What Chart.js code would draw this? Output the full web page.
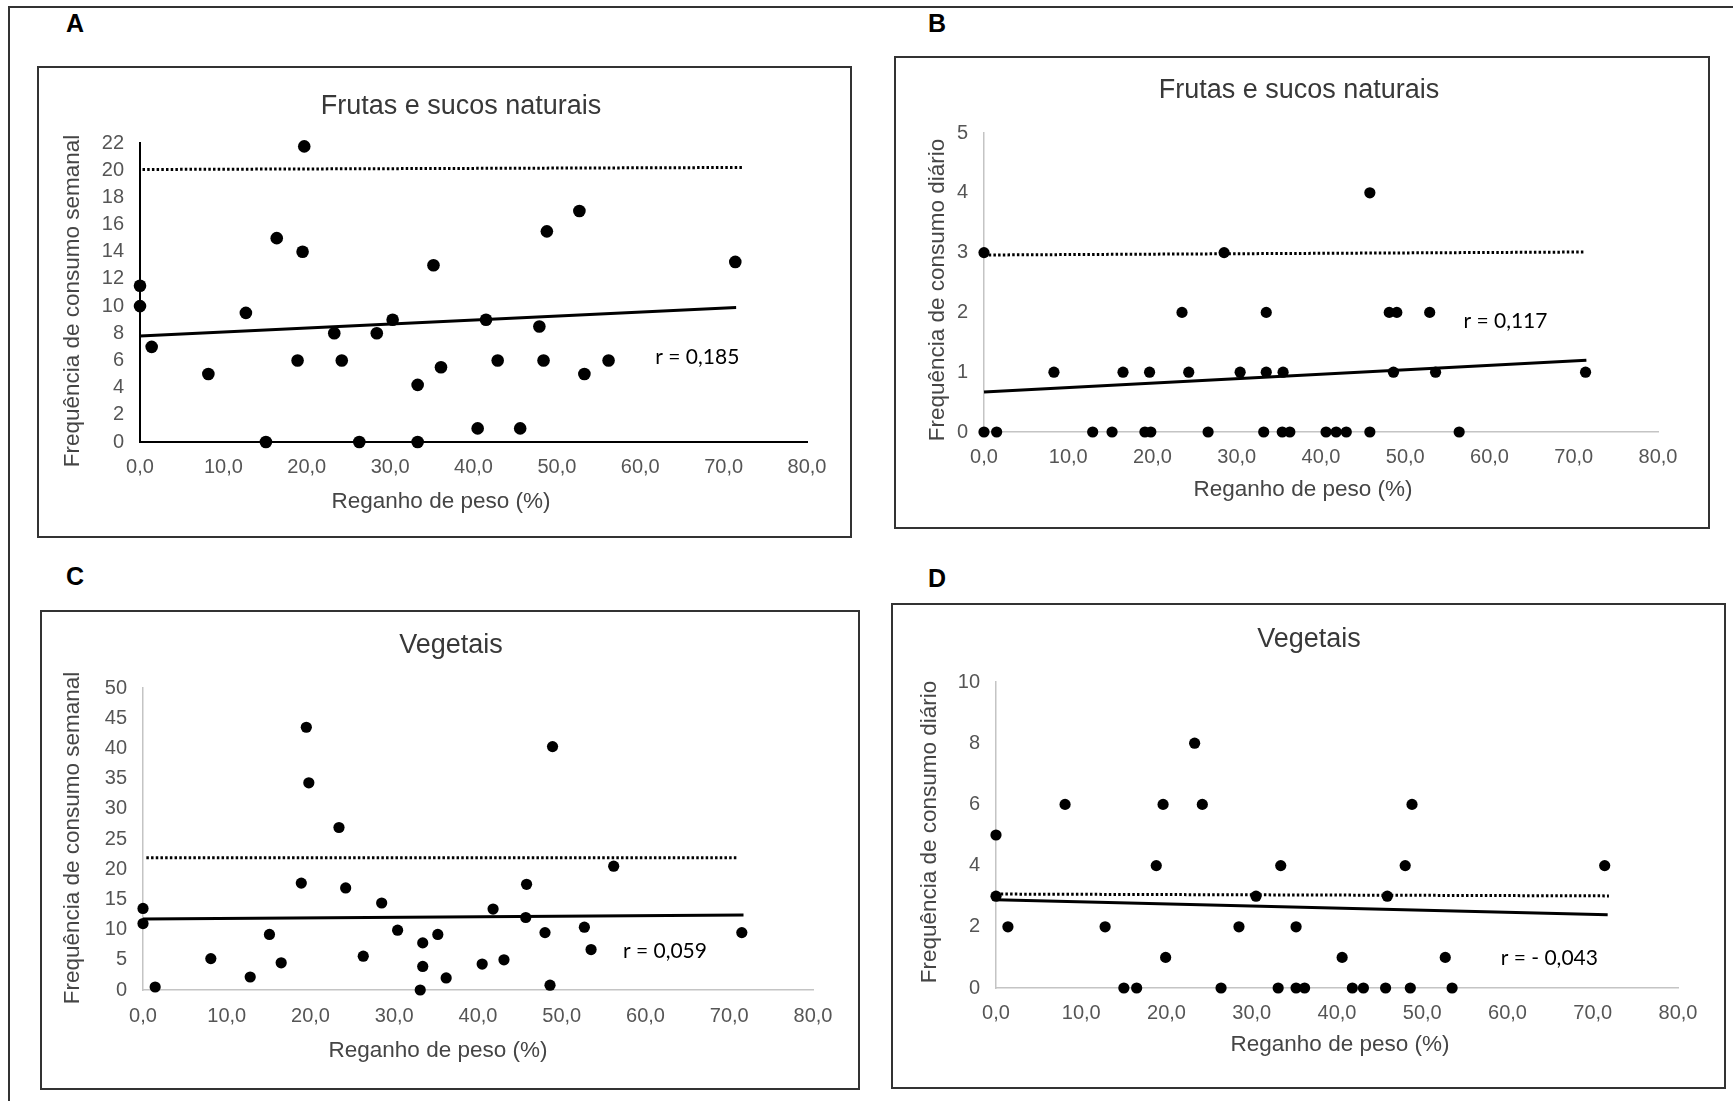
<!DOCTYPE html>
<html>
<head>
<meta charset="utf-8">
<script src="https://cdn.jsdelivr.net/npm/chart.js@4.4.0/dist/chart.umd.min.js"></script>
<style>
  body { margin: 0; width: 1733px; height: 1101px; overflow: hidden; background: #fff; position: relative; }
  .frame { position: absolute; left: 8px; top: 6px; width: 1800px; height: 1200px; border-left: 2px solid #333; border-top: 2px solid #333; }
  .box { position: absolute; border: 2px solid #333; box-sizing: border-box; background: #fff; }
  .box canvas { position: absolute; left: 0; top: 0; }
  .letter { position: absolute; font: bold 25px "Liberation Sans", Arial, sans-serif; line-height: 25px; color: #000; }
</style>
</head>
<body>
<div class="frame"></div>
<div class="letter" style="left:66px;top:11px">A</div>
<div class="letter" style="left:928px;top:11px">B</div>
<div class="letter" style="left:66px;top:564px">C</div>
<div class="letter" style="left:928px;top:566px">D</div>

<script>
// eixo x comum: reganho de peso (%)
const xTickValues = [0, 10, 20, 30, 40, 50, 60, 70, 80];

// A - frutas e sucos naturais, consumo semanal
const frutasSemanalX = [0, 0, 1.4, 8.2, 12.7, 15.1, 16.4, 19.7, 19.5, 18.9, 23.3, 24.2, 26.3, 28.4, 30.3,
  33.3, 33.3, 35.2, 36.1, 40.5, 41.5, 42.9, 45.6, 47.9, 48.4, 48.8, 52.7, 53.3, 56.2, 71.4];
const frutasSemanalY = [11.5, 10, 7, 5, 9.5, 0, 15, 21.75, 14, 6, 8, 6, 0, 8, 9,
  0, 4.2, 13, 5.5, 1, 9, 6, 1, 8.5, 6, 15.5, 17, 5, 6, 13.25];
const frutasSemanalTrendX = [0, 71.5];
const frutasSemanalTrendY = [7.8, 9.9];
const frutasSemanalRefX = [0.3, 72.3];
const frutasSemanalRefY = [20.05, 20.2];
const frutasSemanalTicks = [0, 2, 4, 6, 8, 10, 12, 14, 16, 18, 20, 22];

// B - frutas e sucos naturais, consumo diario
const frutasDiarioX = [0, 28.5, 45.8, 23.5, 33.5, 48.1, 49.0, 52.9,
  8.3, 16.5, 19.65, 24.3, 30.4, 33.5, 35.5, 48.6, 53.6, 71.4,
  0, 1.5, 12.9, 15.2, 19.1, 19.8, 26.6, 33.2, 35.4, 36.3, 40.6, 41.8, 43.0, 45.8, 56.4];
const frutasDiarioY = [3, 3, 4, 2, 2, 2, 2, 2,
  1, 1, 1, 1, 1, 1, 1, 1, 1, 1,
  0, 0, 0, 0, 0, 0, 0, 0, 0, 0, 0, 0, 0, 0, 0];
const frutasDiarioTrendX = [0, 71.5];
const frutasDiarioTrendY = [0.67, 1.2];
const frutasDiarioRefX = [0, 71.4];
const frutasDiarioRefY = [2.96, 3.01];
const frutasDiarioTicks = [0, 1, 2, 3, 4, 5];

// C - vegetais, consumo semanal
const vegetaisSemanalX = [0, 0, 1.45, 8.1, 12.8, 15.1, 16.5, 18.9, 19.5, 19.8, 23.4, 24.2, 26.3, 28.5, 30.4, 33.1,
  33.4, 33.4, 35.2, 36.2, 40.5, 41.8, 43.1, 45.8, 45.7, 48.0, 48.6, 48.9, 52.7, 53.5, 56.2, 71.5];
const vegetaisSemanalY = [13.5, 11, 0.5, 5.2, 2.15, 9.2, 4.5, 17.7, 43.5, 34.3, 26.9, 16.9, 5.6, 14.4, 9.9, 0,
  7.8, 3.9, 9.2, 2.0, 4.3, 13.4, 5.0, 17.5, 12.0, 9.5, 0.8, 40.3, 10.4, 6.7, 20.5, 9.5];
const vegetaisSemanalTrendX = [0, 71.7];
const vegetaisSemanalTrendY = [11.75, 12.4];
const vegetaisSemanalRefX = [0.4, 71.1];
const vegetaisSemanalRefY = [21.9, 21.9];
const vegetaisSemanalTicks = [0, 5, 10, 15, 20, 25, 30, 35, 40, 45, 50];

// D - vegetais, consumo diario
const vegetaisDiarioX = [0, 0, 1.4, 8.1, 12.8, 15.0, 16.5, 18.8, 19.6, 19.9, 23.3, 24.2, 26.4, 28.5, 30.5, 33.1,
  33.4, 35.2, 35.2, 36.2, 40.6, 41.8, 43.1, 45.7, 45.9, 48.0, 48.6, 48.8, 52.7, 53.5, 71.4];
const vegetaisDiarioY = [5, 3, 2, 6, 2, 0, 0, 4, 6, 1, 8, 6, 0, 2, 3, 0,
  4, 2, 0, 0, 1, 0, 0, 0, 3, 4, 0, 6, 1, 0, 4];
const vegetaisDiarioTrendX = [0, 71.75];
const vegetaisDiarioTrendY = [2.88, 2.39];
const vegetaisDiarioRefX = [0, 71.9];
const vegetaisDiarioRefY = [3.07, 3.01];
const vegetaisDiarioTicks = [0, 2, 4, 6, 8, 10];

const FONT = '"Liberation Sans", Arial, sans-serif';

function pts(xs, ys) {
  return xs.map((x, i) => ({x: x, y: ys[i]}));
}

// titulos (grafico e eixos) e valor de r
const panelText = {
  id: 'panelText',
  afterDatasetsDraw(chart, args, o) {
    const ctx = chart.ctx;
    ctx.save();
    ctx.textAlign = 'center';
    ctx.textBaseline = 'middle';
    ctx.fillStyle = '#383838';
    ctx.font = '27px ' + FONT;
    ctx.fillText(o.title, o.titleAt[0], o.titleAt[1]);

    ctx.fillStyle = '#454545';
    ctx.font = '22.5px ' + FONT;
    ctx.fillText('Reganho de peso (%)', o.xTitleAt[0], o.xTitleAt[1]);
    ctx.save();
    ctx.translate(o.yTitleAt[0], o.yTitleAt[1]);
    ctx.rotate(-Math.PI / 2);
    ctx.fillText(o.yTitle, 0, 0);
    ctx.restore();

    ctx.fillStyle = '#000';
    ctx.font = '21px Lato, sans-serif';
    ctx.textAlign = 'left';
    ctx.fillText(o.r, chart.scales.x.getPixelForValue(o.rAt[0]), chart.scales.y.getPixelForValue(o.rAt[1]));
    ctx.restore();
  }
};

const panels = [
  {title: 'Frutas e sucos naturais', yTitle: 'Frequência de consumo semanal', r: 'r = 0,185', rAt: [61.8, 6.27],
   x: frutasSemanalX, y: frutasSemanalY, tx: frutasSemanalTrendX, ty: frutasSemanalTrendY,
   rx: frutasSemanalRefX, ry: frutasSemanalRefY, yTicks: frutasSemanalTicks,
   box: [38, 67, 851, 537], area: [140, 143, 807, 442], titleAt: [461, 107], yTitleAt: [73, 301], xTitleAt: [441, 502],
   xPad: 13, axisColor: '#000', axisWidth: 2, radius: 6.3},
  {title: 'Frutas e sucos naturais', yTitle: 'Frequência de consumo diário', r: 'r = 0,117', rAt: [56.9, 1.86],
   x: frutasDiarioX, y: frutasDiarioY, tx: frutasDiarioTrendX, ty: frutasDiarioTrendY,
   rx: frutasDiarioRefX, ry: frutasDiarioRefY, yTicks: frutasDiarioTicks,
   box: [895, 57, 1709, 528], area: [984, 133, 1658, 432], titleAt: [1299, 91], yTitleAt: [938, 290], xTitleAt: [1303, 490],
   xPad: 13, axisColor: '#c4c4c4', axisWidth: 1.5, radius: 5.6},
  {title: 'Vegetais', yTitle: 'Frequência de consumo semanal', r: 'r = 0,059', rAt: [57.3, 6.46],
   x: vegetaisSemanalX, y: vegetaisSemanalY, tx: vegetaisSemanalTrendX, ty: vegetaisSemanalTrendY,
   rx: vegetaisSemanalRefX, ry: vegetaisSemanalRefY, yTicks: vegetaisSemanalTicks,
   box: [41, 611, 859, 1089], area: [143, 688, 813, 990], titleAt: [451, 646], yTitleAt: [73, 838], xTitleAt: [438, 1051],
   xPad: 14, axisColor: '#c4c4c4', axisWidth: 1.5, radius: 5.6},
  {title: 'Vegetais', yTitle: 'Frequência de consumo diário', r: 'r = - 0,043', rAt: [59.2, 0.98],
   x: vegetaisDiarioX, y: vegetaisDiarioY, tx: vegetaisDiarioTrendX, ty: vegetaisDiarioTrendY,
   rx: vegetaisDiarioRefX, ry: vegetaisDiarioRefY, yTicks: vegetaisDiarioTicks,
   box: [892, 604, 1725, 1088], area: [996, 682, 1678, 988], titleAt: [1309, 640], yTitleAt: [930, 832], xTitleAt: [1340, 1045],
   xPad: 13, axisColor: '#c4c4c4', axisWidth: 1.5, radius: 5.6}
];

panels.forEach(function (p) {
  const div = document.createElement('div');
  div.className = 'box';
  div.style.left = (p.box[0] - 1) + 'px';
  div.style.top = (p.box[1] - 1) + 'px';
  div.style.width = (p.box[2] - p.box[0] + 2) + 'px';
  div.style.height = (p.box[3] - p.box[1] + 2) + 'px';
  document.body.appendChild(div);

  const cl = p.box[0] + 1, ct = p.box[1] + 1;
  const cw = p.box[2] - p.box[0] - 2, ch = p.box[3] - p.box[1] - 2;
  const canvas = document.createElement('canvas');
  canvas.width = cw;
  canvas.height = ch;
  canvas.style.width = cw + 'px';
  canvas.style.height = ch + 'px';
  div.appendChild(canvas);

  const aL = p.area[0] - cl, aT = p.area[1] - ct, aR = p.area[2] - cl, aB = p.area[3] - ct;
  const yMax = p.yTicks[p.yTicks.length - 1];
  const local = xy => [xy[0] - cl, xy[1] - ct];

  new Chart(canvas.getContext('2d'), {
    type: 'scatter',
    data: {
      datasets: [
        {
          data: pts(p.x, p.y),
          backgroundColor: '#000',
          borderWidth: 0,
          pointRadius: p.radius,
          pointHoverRadius: p.radius,
          clip: false
        },
        {
          data: pts(p.tx, p.ty),
          showLine: true,
          borderColor: '#000',
          borderWidth: 3,
          pointRadius: 0,
          clip: false
        },
        {
          data: pts(p.rx, p.ry),
          showLine: true,
          borderColor: '#000',
          borderWidth: 3,
          borderDash: [2.5, 2.2],
          pointRadius: 0,
          clip: false
        }
      ]
    },
    options: {
      responsive: false,
      animation: false,
      events: [],
      layout: { padding: { left: 0, top: aT, right: cw - aR, bottom: 0 } },
      plugins: {
        legend: { display: false },
        tooltip: { enabled: false },
        title: { display: false },
        panelText: {
          title: p.title, titleAt: local(p.titleAt),
          yTitle: p.yTitle, yTitleAt: local(p.yTitleAt), xTitleAt: local(p.xTitleAt),
          r: p.r, rAt: p.rAt
        }
      },
      scales: {
        x: {
          type: 'linear',
          min: 0,
          max: 80,
          afterBuildTicks: function (scale) {
            scale.ticks = xTickValues.map(v => ({value: v}));
          },
          afterFit: function (scale) { scale.height = ch - aB; },
          grid: { display: false, drawTicks: false },
          border: { display: true, color: p.axisColor, width: p.axisWidth },
          ticks: {
            padding: p.xPad,
            maxRotation: 0,
            autoSkip: false,
            color: '#555',
            font: { family: FONT, size: 20 },
            callback: v => v.toFixed(1).replace('.', ',')
          }
        },
        y: {
          type: 'linear',
          min: 0,
          max: yMax,
          afterBuildTicks: function (scale) {
            scale.ticks = p.yTicks.map(v => ({value: v}));
          },
          afterFit: function (scale) { scale.width = aL; },
          grid: { display: false, drawTicks: false },
          border: { display: true, color: p.axisColor, width: p.axisWidth },
          ticks: {
            padding: 16,
            autoSkip: false,
            color: '#555',
            font: { family: FONT, size: 20 }
          }
        }
      }
    },
    plugins: [panelText]
  });
});
</script>
</body>
</html>
